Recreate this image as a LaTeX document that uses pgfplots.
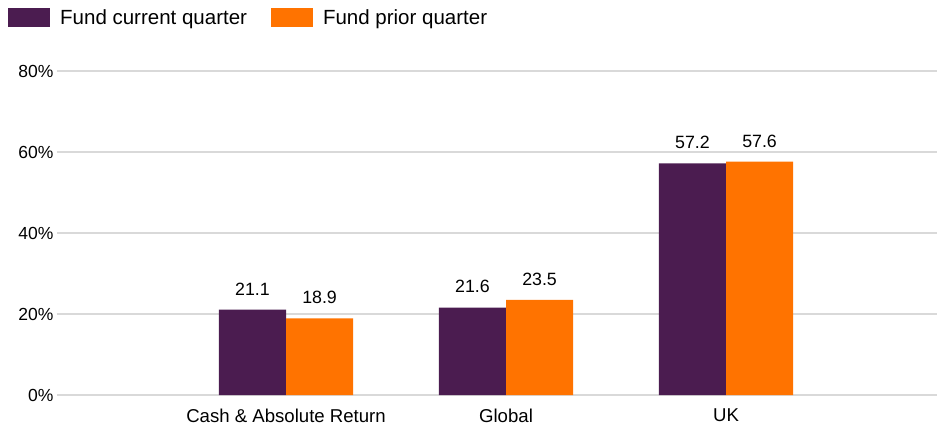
\documentclass[border=0pt]{standalone}
\usepackage{fontspec}
\setmainfont{Liberation Sans}
\usepackage{pgfplots}
\pgfplotsset{compat=1.18}
\definecolor{cpurple}{HTML}{4B1C50}
\definecolor{corange}{HTML}{FF7300}
\definecolor{cgrid}{HTML}{D9D9D9}
\pgfplotsset{sqlegend/.style={legend image code/.code={\fill[##1] (0pt,-9.5pt) rectangle (42pt,9.5pt);}}}
\begin{document}
\begin{tikzpicture}
\begin{axis}[
  scale only axis, width=880pt, height=324pt,
  xmin=-0.041, xmax=3.959, ymin=0, ymax=80,
  ybar=0pt, bar width=0.305,
  ytick={0,20,40,60,80},
  yticklabel={\pgfmathprintnumber{\tick}\%},
  xtick={1,2,3},
  xticklabels={Cash \& Absolute Return, Global, UK},
  ymajorgrids, grid style={cgrid, line width=1.3pt},
  axis line style={draw=none}, major tick length=0pt,
  yticklabel style={font=\fontsize{17.5}{21}\selectfont},
  xticklabel style={font=\fontsize{18.6}{22}\selectfont, yshift=-10pt},
  /pgf/number format/assume math mode=true,
  nodes near coords={\pgfmathprintnumber[fixed,fixed zerofill,precision=1]{\pgfplotspointmeta}},
  every node near coord/.append style={font=\fontsize{17.8}{21}\selectfont, yshift=11pt, black},
  legend columns=2,
  legend style={at={(axis description cs:-0.0557,1.165)}, anchor=west, draw=none, fill=none,
    inner sep=0pt, font=\fontsize{20.5}{24}\selectfont,
    /tikz/every odd column/.append style={column sep=10pt},
    /tikz/every even column/.append style={column sep=24pt},
    nodes={inner sep=0pt}},
  clip=false,
]
\addplot[fill=cpurple, draw=none, sqlegend]
  coordinates {(1,21.1) (2,21.6) (3,57.2)};
\addplot[fill=corange, draw=none, sqlegend]
  coordinates {(1,18.9) (2,23.5) (3,57.6)};
\legend{Fund current quarter, Fund prior quarter}
\end{axis}
\pgfresetboundingbox
\useasboundingbox (-57pt,-34pt) rectangle (880pt,395pt);
\end{tikzpicture}
\end{document}
